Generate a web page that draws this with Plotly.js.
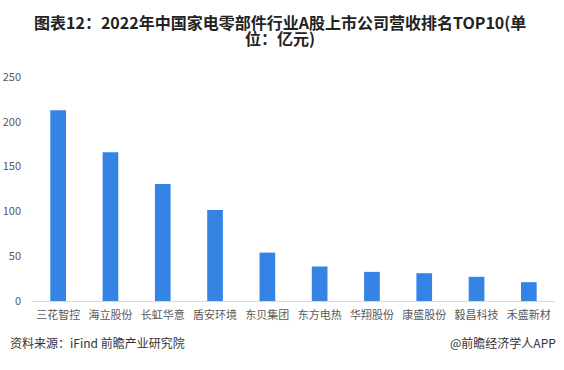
<!DOCTYPE html>
<html>
<head>
<meta charset="utf-8">
<script src="https://cdn.plot.ly/plotly-3.0.1.min.js"></script>
<style>html,body{margin:0;padding:0;background:#fff;}#chart{width:564px;height:370px;}</style>
</head>
<body>
<div id="chart"></div>
<script>
const companies = ["三花智控","海立股份","长虹华意","盾安环境","东贝集团","东方电热","华翔股份","康盛股份","毅昌科技","禾盛新材"];
const revenue = [213, 166, 130.5, 101.5, 54, 38.5, 32.5, 31, 27, 21];
const yTicks = [0, 50, 100, 150, 200, 250];
const titleLines = ["图表12：2022年中国家电零部件行业A股上市公司营收排名TOP10(单", "位：亿元)"];

const font = "'Noto Sans CJK SC', 'Microsoft YaHei', sans-serif";

Plotly.newPlot('chart', [{
  type: 'bar',
  x: companies,
  y: revenue,
  marker: {color: '#3583E4'},
  hoverinfo: 'x+y'
}], {
  width: 564, height: 370,
  margin: {l: 32, r: 9, t: 77, b: 69},
  paper_bgcolor: '#fff', plot_bgcolor: '#fff',
  bargap: 0.7,
  font: {family: font, size: 11, color: '#595959'},
  xaxis: {
    showgrid: false, showline: true, linecolor: '#d9d9d9', linewidth: 1,
    ticks: '', tickfont: {size: 11, color: '#595959'}, ticklabelstandoff: 4, fixedrange: true
  },
  yaxis: {
    range: [0, 250], tickvals: yTicks, showgrid: false, zeroline: false,
    showline: false, ticks: '', tickfont: {size: 11, color: '#595959'},
    ticklabelstandoff: 10
  },
  annotations: [
    {text: '<b>' + titleLines[0] + '</b>',
     xref: 'paper', yref: 'paper', x: 0.474, y: 1.2455, xanchor: 'center', yanchor: 'middle',
     showarrow: false, font: {family: font, size: 16, color: '#222'}},
    {text: '<b>' + titleLines[1] + '</b>',
     xref: 'paper', yref: 'paper', x: 0.474, y: 1.175, xanchor: 'center', yanchor: 'middle',
     showarrow: false, font: {family: font, size: 16, color: '#222'}},
    {text: '资料来源：iFind 前瞻产业研究院', xref: 'paper', yref: 'paper', x: -0.045, y: -0.185,
     xanchor: 'left', yanchor: 'middle', showarrow: false, font: {family: font, size: 12, color: '#333'}},
    {text: '@前瞻经济学人APP', xref: 'paper', yref: 'paper', x: 1.005, y: -0.185,
     xanchor: 'right', yanchor: 'middle', showarrow: false, font: {family: font, size: 12, color: '#333'}}
  ],
  showlegend: false
}, {displayModeBar: false, staticPlot: true});
</script>
</body>
</html>
